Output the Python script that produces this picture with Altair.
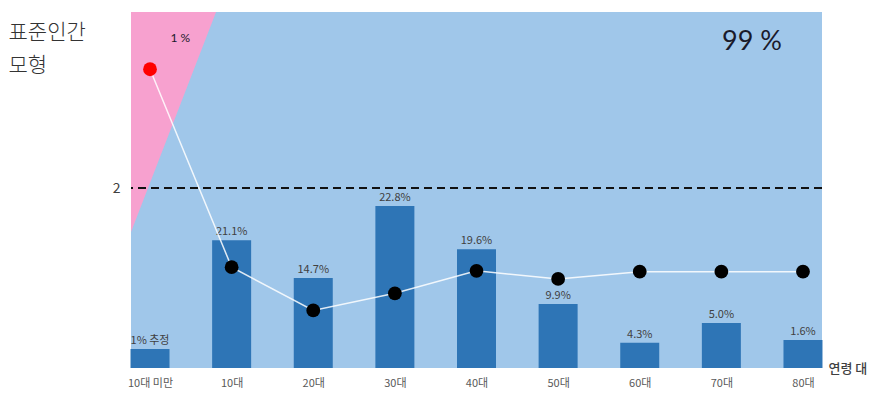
import altair as alt
import pandas as pd

# ---- data ----
categories = ["10대 미만", "10대", "20대", "30대", "40대", "50대", "60대", "70대", "80대"]
bar_heights = [0.21, 1.42, 1.00, 1.80, 1.32, 0.71, 0.28, 0.50, 0.31]
bar_labels = ["1% 추정", "21.1%", "14.7%", "22.8%", "19.6%", "9.9%", "4.3%", "5.0%", "1.6%"]
point_values = [3.32, 1.12, 0.64, 0.83, 1.08, 0.99, 1.07, 1.07, 1.07]
point_kind = ["표준인간", "기타", "기타", "기타", "기타", "기타", "기타", "기타", "기타"]
threshold = [2]

# pink region (standard-human share) in data coordinates
pink_x = [-0.233, 0.809]
pink_y = [1.51, 3.956]
pink_y2 = [3.956, 3.956]

annot_text = ["1 %", "99 %"]
annot_x = [0.37, 7.375]
annot_y = [3.67, 3.62]
annot_size = [12, 27]

idx = list(range(len(categories)))

bars_df = pd.DataFrame({"idx": idx, "cat": categories, "h": bar_heights, "label": bar_labels})
pts_df = pd.DataFrame({"idx": idx, "v": point_values, "kind": point_kind})
pink_df = pd.DataFrame({"x": pink_x, "y": pink_y, "y2": pink_y2})
rule_df = pd.DataFrame({"y": threshold})
annot_df = pd.DataFrame({"x": annot_x, "y": annot_y, "t": annot_text, "s": annot_size})

FONT = "Noto Sans CJK KR"
xscale = alt.Scale(domain=[-0.233, 8.233], nice=False, zero=False, padding=0)
yscale = alt.Scale(domain=[0, 3.956], nice=False, padding=0)

label_expr = "[" + ",".join(f"'{c}'" for c in categories) + "][datum.value]"

x_axis = alt.Axis(
    values=idx, labelExpr=label_expr, title="연령 대", grid=False, domain=False, ticks=False,
    labelFont=FONT, labelFontSize=11, labelColor="#595959", labelPadding=9,
    titleFont=FONT, titleFontSize=13, titleColor="#404040", titleFontWeight=500,
    titleX=697, titleY=0, titleAlign="left", titleBaseline="middle", titleAnchor="start",
)
y_axis = alt.Axis(
    values=threshold, title=["표준인간", "모형"], grid=False, domain=False, ticks=False,
    labelFont=FONT, labelFontSize=14, labelColor="#404040", labelPadding=11,
    titleFont=FONT, titleFontSize=21, titleColor="#333333", titleFontWeight=300,
    titleAngle=0, titleAlign="left", titleBaseline="top", titleX=-123, titleY=9,
    titleLineHeight=33,
)


def X(field):
    return alt.X(field, scale=xscale, axis=x_axis)


def Y(field):
    return alt.Y(field, scale=yscale, axis=y_axis)


pink = alt.Chart(pink_df).mark_area(color="#f7a1cf", opacity=1).encode(
    x=X("x:Q"), y=Y("y:Q"), y2="y2:Q",
)

bars = alt.Chart(bars_df).mark_bar(size=39, color="#2e75b6").encode(
    x=X("idx:Q"), y=Y("h:Q"),
)

bar_text = alt.Chart(bars_df).mark_text(dy=-8, font=FONT, fontSize=11, color="#404040").encode(
    x=X("idx:Q"), y=Y("h:Q"), text="label:N",
)

rule = alt.Chart(rule_df).mark_rule(color="#111111", strokeWidth=2, strokeDash=[8, 5]).encode(
    y=Y("y:Q"),
)

line = alt.Chart(pts_df).mark_line(color="white", strokeWidth=1.5, opacity=0.85).encode(
    x=X("idx:Q"), y=Y("v:Q"),
)

points = alt.Chart(pts_df).mark_point(filled=True, size=190, opacity=1, shape="circle").encode(
    x=X("idx:Q"), y=Y("v:Q"),
    color=alt.Color("kind:N", scale=alt.Scale(domain=["표준인간", "기타"], range=["#ff0000", "#000000"]), legend=None),
)

annots = alt.Chart(annot_df).mark_text(font="Lato", color="#1a1a2a").encode(
    x=X("x:Q"), y=Y("y:Q"), text="t:N",
    size=alt.Size("s:Q", scale=None, legend=None),
)

chart = alt.layer(pink, bars, bar_text, rule, line, points, annots).properties(
    width=691,
    height=356,
    padding={"left": 123, "top": 4, "right": 50, "bottom": 24},
    autosize=alt.AutoSizeParams(type="none"),
    background="white",
).configure_view(fill="#a0c7ea", strokeWidth=0)

chart.save("out.html", embed_options={"renderer": "svg", "actions": False})
